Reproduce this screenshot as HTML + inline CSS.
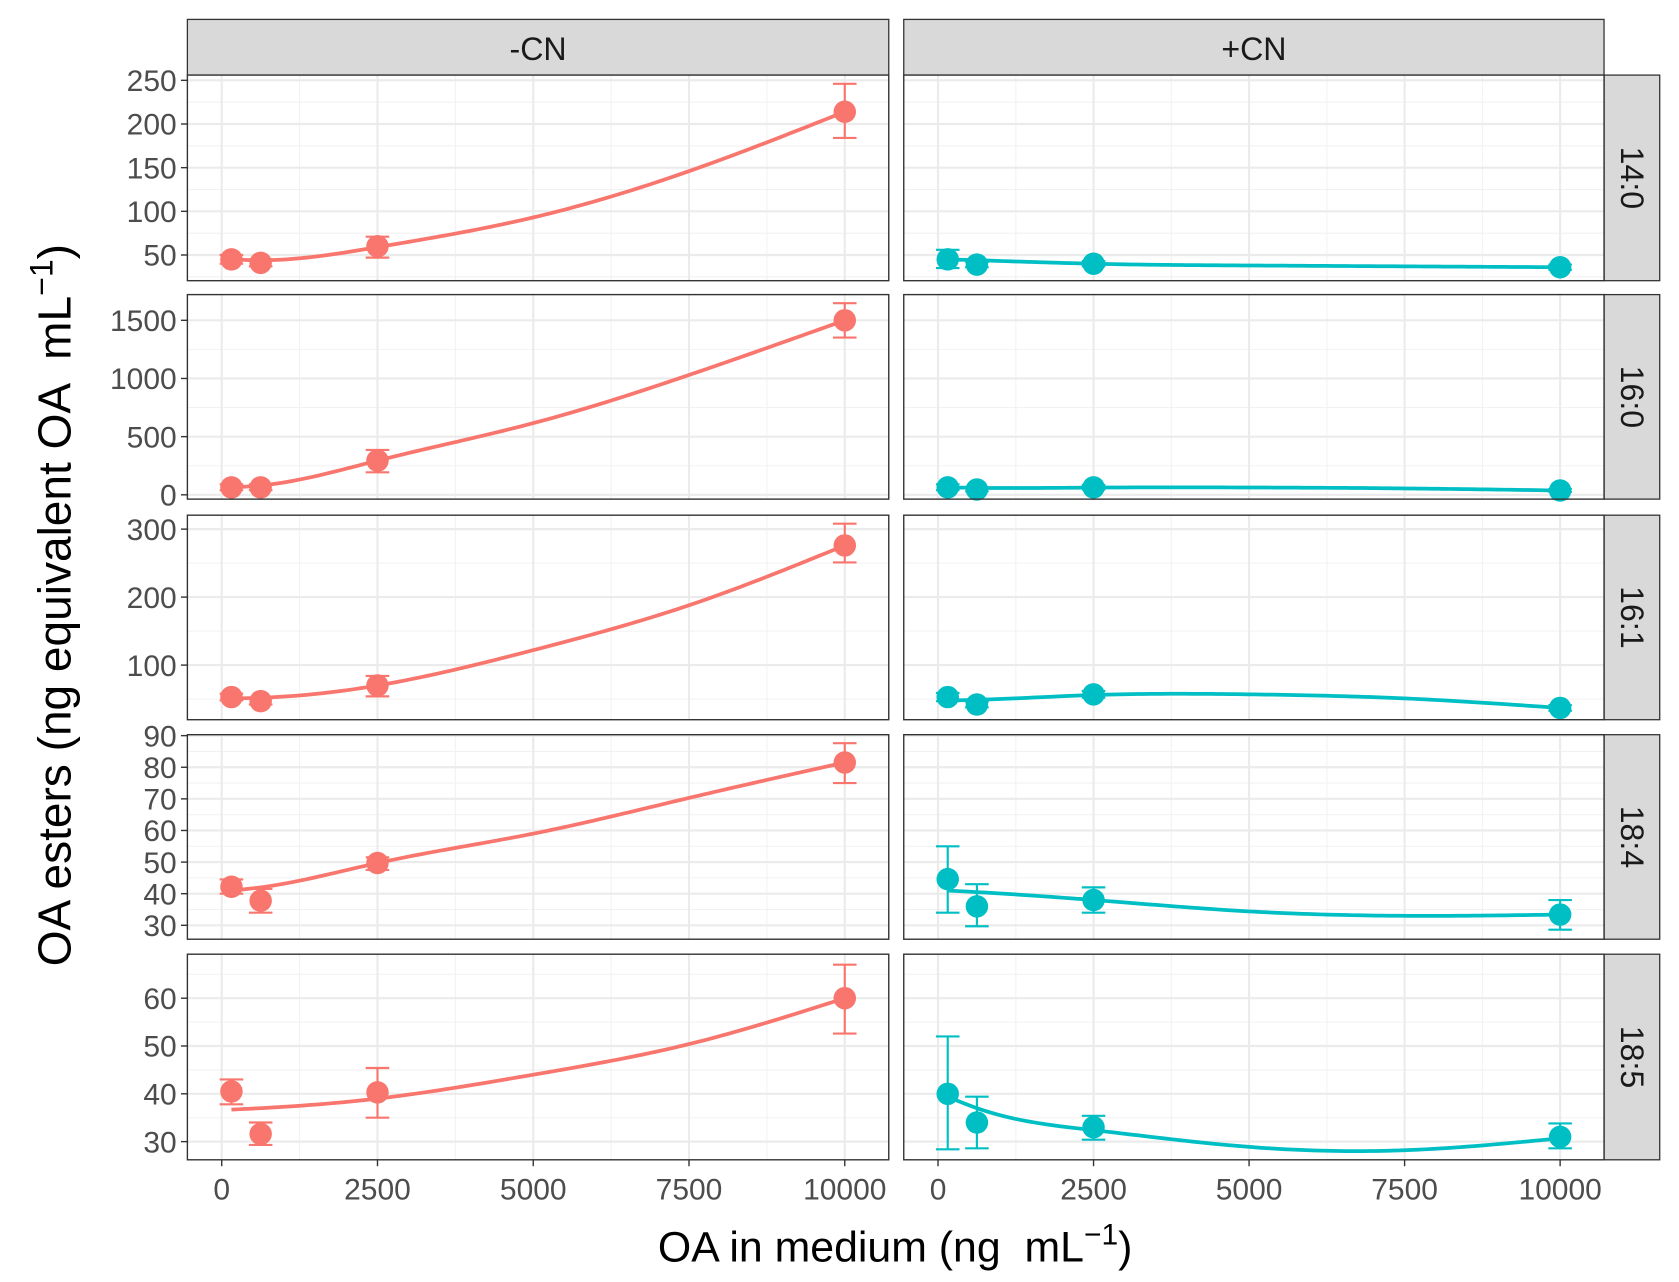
<!DOCTYPE html>
<html><head><meta charset="utf-8"><style>html,body{margin:0;padding:0;background:#fff}svg{display:block}</style></head>
<body>
<svg id="chart" width="1679" height="1282" viewBox="0 0 1568 1197" xmlns="http://www.w3.org/2000/svg" font-family="Liberation Sans, sans-serif"></svg>
<script>
const xVals = [156, 625, 2500, 10000];
const fitX = [156, 625, 2500, 5000, 7500, 10000];
const columns = ["-CN", "+CN"];
const rowsLab = ["14:0", "16:0", "16:1", "18:4", "18:5"];
const xTicks = [0, 2500, 5000, 7500, 10000];
const yTicks = [[50,100,150,200,250],[0,500,1000,1500],[100,200,300],[30,40,50,60,70,80,90],[30,40,50,60]];
const yDomains = [[20.6,256],[-37,1721],[19.7,320.5],[25.6,90.3],[26.2,69.2]];
// -CN
const mNeg = [[45,41,60,214],[64,64,294,1500],[53,47,70,276],[42.2,37.8,49.7,81.5],[40.5,31.6,40.3,60]];
const loNeg = [[40,37,47,184],[40,40,193,1352],[48,42,54,251],[40,34,47.5,75],[37.8,29.3,35,52.6]];
const hiNeg = [[50,45,71,246],[90,90,386,1647],[58,51,84,308],[44.5,41.5,51.5,87.6],[43,34,45.4,67]];
const fitNeg = [[45,44,59,93,146,214],[64,80,294,616,1030,1500],[51,52,70,122,188,276],[41,42,49.7,59,70.3,81.5],[36.7,37,39,44,50.4,60]];
// +CN
const mPos = [[45,39,40,36],[64,46,64,37],[53,42,57,37],[44.6,36,38,33.4],[40,34,33,31]];
const loPos = [[35,36,37,33],[40,30,45,25],[47,38,52,33],[34,29.7,34,28.6],[28.4,28.6,30.4,28.6]];
const hiPos = [[56,42,43,39],[90,62,85,50],[59,46,62,41],[55,43,42,38],[52,39.4,35.4,33.8]];
const fitPos = [[45,44,40,38,37,36],[64,60,62,63,55,37],[48,49,56,57,51,37],[41,40.5,38,34.4,33,33.4],[39.4,37,32.4,28.9,28.2,30.7]];

const NS="http://www.w3.org/2000/svg", svg=document.getElementById('chart');
function mk(t,a,p){const e=document.createElementNS(NS,t);for(const k in a)e.setAttribute(k,a[k]);(p||svg).appendChild(e);return e;}
const colX=[[175,830],[844,1498]];
const rowY=[[70,262],[275,466],[481,672],[686,877],[891,1083]];
const xDom=[-551,10706];
const colors=["#F8766D","#00BFC4"];
function sx(c,v){const [a,b]=colX[c];return a+(v-xDom[0])/(xDom[1]-xDom[0])*(b-a);}
function sy(r,v){const [t,b]=rowY[r],d=yDomains[r];return b-(v-d[0])/(d[1]-d[0])*(b-t);}
function spline(xs,ys){
  const n=xs.length,h=[],al=[],l=[1],mu=[0],z=[0],c=new Array(n).fill(0),b=[],d=[];
  for(let i=0;i<n-1;i++)h.push(xs[i+1]-xs[i]);
  for(let i=1;i<n-1;i++)al[i]=3/h[i]*(ys[i+1]-ys[i])-3/h[i-1]*(ys[i]-ys[i-1]);
  for(let i=1;i<n-1;i++){l[i]=2*(xs[i+1]-xs[i-1])-h[i-1]*mu[i-1];mu[i]=h[i]/l[i];z[i]=(al[i]-h[i-1]*z[i-1])/l[i];}
  for(let j=n-2;j>=0;j--){c[j]=(j>0? z[j]-mu[j]*c[j+1] : 0);b[j]=(ys[j+1]-ys[j])/h[j]-h[j]*(c[j+1]+2*c[j])/3;d[j]=(c[j+1]-c[j])/(3*h[j]);}
  return x=>{let i=0;while(i<n-2&&x>xs[i+1])i++;const t=x-xs[i];return ys[i]+b[i]*t+c[i]*t*t+d[i]*t*t*t;};
}

columns.forEach((c,ci)=>{
  const g=mk('g',{});
  
  
  mk('rect',{x:colX[ci][0],y:18,width:colX[ci][1]-colX[ci][0],height:52,fill:'#d9d9d9',stroke:'#333','stroke-width':1.2},g);
  const t=mk('text',{x:(colX[ci][0]+colX[ci][1])/2,y:56,'font-size':30,'text-anchor':'middle',fill:'#1a1a1a'},g);t.textContent=c;
});
rowsLab.forEach((lab,ri)=>{
  const g=mk('g',{});
  
  
  const [t,b]=rowY[ri];
  mk('rect',{x:1498,y:t,width:52,height:b-t,fill:'#d9d9d9',stroke:'#333','stroke-width':1.2},g);
  const cx=1514,cy=(t+b)/2;
  const tx=mk('text',{x:cx,y:cy,'font-size':30,'text-anchor':'middle',fill:'#1a1a1a',transform:`rotate(90 ${cx} ${cy})`},g);tx.textContent=lab;
});

for(let ri=0;ri<5;ri++)for(let ci=0;ci<2;ci++){
  const g=mk('g',{});
  
  
  const [x0,x1]=colX[ci],[y0,y1]=rowY[ri];
  mk('rect',{x:x0,y:y0,width:x1-x0,height:y1-y0,fill:'#fff'},g);
  const yt=yTicks[ri],step=yt[1]-yt[0];
  for(let v=yt[0]-step/2;v<=yt[yt.length-1]+step;v+=step){const y=sy(ri,v);if(y>y0&&y<y1)mk('line',{x1:x0,x2:x1,y1:y,y2:y,stroke:'#f2f2f2','stroke-width':1},g);}
  for(let v=-1250;v<=11250;v+=2500){const x=sx(ci,v);if(x>x0&&x<x1)mk('line',{x1:x,x2:x,y1:y0,y2:y1,stroke:'#f2f2f2','stroke-width':1},g);}
  yt.forEach(v=>{const y=sy(ri,v);mk('line',{x1:x0,x2:x1,y1:y,y2:y,stroke:'#ebebeb','stroke-width':2},g);});
  xTicks.forEach(v=>{const x=sx(ci,v);mk('line',{x1:x,x2:x,y1:y0,y2:y1,stroke:'#ebebeb','stroke-width':2},g);});
  const col=colors[ci];
  const fit=ci?fitPos[ri]:fitNeg[ri],m=ci?mPos[ri]:mNeg[ri],lo=ci?loPos[ri]:loNeg[ri],hi=ci?hiPos[ri]:hiNeg[ri];
  const f=spline(fitX,fit);let d="";
  for(let k=0;k<=100;k++){const x=fitX[0]+(fitX[fitX.length-1]-fitX[0])*k/100;d+=(k?"L":"M")+sx(ci,x).toFixed(2)+","+sy(ri,f(x)).toFixed(2);}
  const fl=mk('path',{d:d,fill:'none',stroke:col,'stroke-width':3.5},g);
  
  
  xVals.forEach((x,i)=>{
    const px=sx(ci,x);
    const e=mk('path',{d:`M${px-11},${sy(ri,hi[i])}H${px+11}M${px},${sy(ri,hi[i])}V${sy(ri,lo[i])}M${px-11},${sy(ri,lo[i])}H${px+11}`,stroke:col,'stroke-width':2,fill:'none'},g);
    
    
    const c=mk('circle',{cx:px,cy:sy(ri,m[i]),r:10.5,fill:col},g);
    
    
  });
  mk('rect',{x:x0,y:y0,width:x1-x0,height:y1-y0,fill:'none',stroke:'#333','stroke-width':1.3},g);
  if(ci===0){yt.forEach(v=>{const y=sy(ri,v);mk('line',{x1:x0-6,x2:x0,y1:y,y2:y,stroke:'#333','stroke-width':1.3},g);const t=mk('text',{x:x0-10,y:y+10,'font-size':28,'text-anchor':'end',fill:'#4d4d4d'},g);t.textContent=v;});}
  if(ri===4){xTicks.forEach(v=>{const x=sx(ci,v);mk('line',{x1:x,x2:x,y1:y1,y2:y1+6,stroke:'#333','stroke-width':1.3},g);const t=mk('text',{x:x,y:y1+37,'font-size':28,'text-anchor':'middle',fill:'#4d4d4d'},g);t.textContent=v;});}
}
const xt=mk('text',{x:836,y:1178,'font-size':40,'text-anchor':'middle',fill:'#000'});


xt.innerHTML='OA in medium (ng \u00a0mL<tspan dy="-16" font-size="28">−1</tspan><tspan dy="16">)</tspan>';
const yt=mk('text',{x:0,y:0,'font-size':43,'text-anchor':'middle',fill:'#000',transform:'translate(66 565) rotate(-90)'});


yt.innerHTML='OA esters (ng equivalent OA \u00a0mL<tspan dy="-17" font-size="30">−1</tspan><tspan dy="17">)</tspan>';
</script>
</body></html>
